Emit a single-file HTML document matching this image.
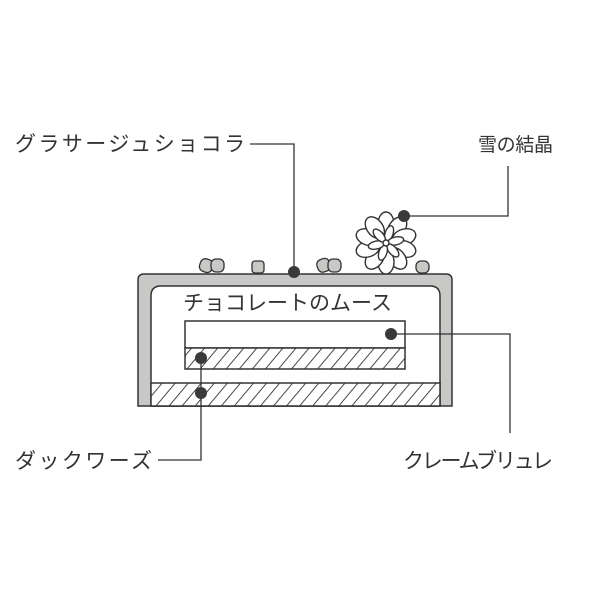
<!DOCTYPE html>
<html><head><meta charset="utf-8"><style>
body{margin:0;background:#fff}
svg{display:block}
text{font-family:"Liberation Sans","Noto Sans CJK JP",sans-serif;fill:#333}
</style></head><body>
<svg width="600" height="600" viewBox="0 0 600 600">
<defs>
<pattern id="h" width="10" height="10" patternUnits="userSpaceOnUse" patternTransform="rotate(40)">
<rect width="10" height="10" fill="#fff"/><line x1="0" y1="0" x2="0" y2="10" stroke="#333" stroke-width="1.8"/>
</pattern>
<ellipse id="p" cx="0" cy="-19" rx="8" ry="12"/>
<ellipse id="q" cx="0" cy="-10" rx="4" ry="8"/>
</defs>
<!-- cake -->
<path d="M138,406 L138,280 Q138,274 144,274 L446,274 Q452,274 452,280 L452,406 Z" fill="#c8c8c6" stroke="#333" stroke-width="1.5"/>
<path d="M151,406 L151,296 Q151,286 161,286 L430,286 Q440,286 440,296 L440,406 Z" fill="#fff" stroke="#333" stroke-width="1.5"/>
<rect x="151" y="383" width="289" height="23" fill="url(#h)" stroke="#333" stroke-width="1.5"/>
<rect x="185" y="321" width="220" height="27" fill="#fff" stroke="#333" stroke-width="1.5"/>
<rect x="185" y="348" width="220" height="21" fill="url(#h)" stroke="#333" stroke-width="1.5"/>
<text x="183" y="310" font-size="21">チョコレートのムース</text>
<!-- pebbles -->
<g fill="#c8c8c6" stroke="#333" stroke-width="1.3">
<rect x="200" y="259" width="13" height="13" rx="5" transform="rotate(20 206 265)"/>
<rect x="211" y="259" width="13" height="13" rx="5"/>
<rect x="252" y="261" width="12" height="12" rx="3"/>
<rect x="317" y="259" width="13" height="13" rx="5" transform="rotate(-20 323 265)"/>
<rect x="328" y="259" width="13" height="13" rx="5"/>
<rect x="416" y="261" width="13" height="12" rx="5"/>
</g>
<!-- flower -->
<g stroke="#333" stroke-width="1.4" fill="#fff" transform="translate(386 243)">
<use href="#p" transform="rotate(0)"/><use href="#p" transform="rotate(36)"/><use href="#p" transform="rotate(72)"/>
<use href="#p" transform="rotate(108)"/><use href="#p" transform="rotate(144)"/><use href="#p" transform="rotate(180)"/>
<use href="#p" transform="rotate(216)"/><use href="#p" transform="rotate(252)"/><use href="#p" transform="rotate(288)"/>
<use href="#p" transform="rotate(324)"/>
<use href="#q" transform="rotate(18)"/><use href="#q" transform="rotate(78)"/><use href="#q" transform="rotate(138)"/>
<use href="#q" transform="rotate(198)"/><use href="#q" transform="rotate(258)"/><use href="#q" transform="rotate(318)"/>
<circle cx="0" cy="0" r="3"/>
</g>
<!-- leaders -->
<g stroke="#333" stroke-width="1.3" fill="none">
<polyline points="250,144 294,144 294,272"/>
<polyline points="404,216 508,216 508,166"/>
<polyline points="391,334 510,334 510,433"/>
<polyline points="201,358 201,460 158,460"/>
</g>
<g fill="#3a3a3a">
<circle cx="294" cy="272" r="6"/>
<circle cx="404" cy="216" r="6"/>
<circle cx="391" cy="334" r="6"/>
<circle cx="201" cy="358" r="6"/>
<circle cx="201" cy="393" r="6"/>
</g>
<text x="15" y="151" font-size="21" textLength="230">グラサージュショコラ</text>
<text x="478" y="151" font-size="19" textLength="75">雪の結晶</text>
<text x="15" y="468" font-size="21" textLength="137">ダックワーズ</text>
<text x="403" y="468" font-size="21" textLength="150">クレームブリュレ</text>
</svg>
</body></html>
